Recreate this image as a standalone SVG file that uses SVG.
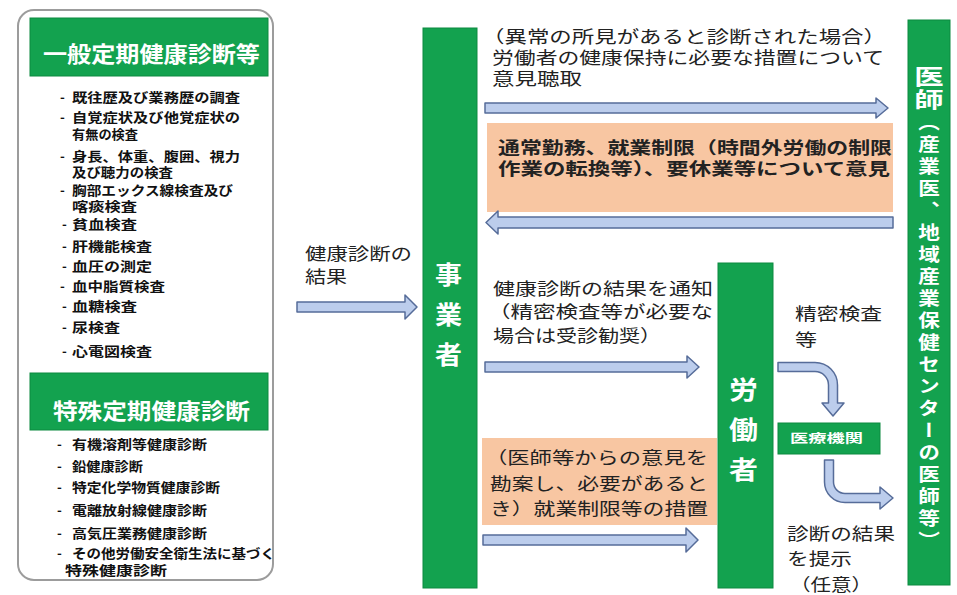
<svg xmlns="http://www.w3.org/2000/svg" width="957" height="595" viewBox="0 0 957 595">
<style>
text{font-family:"Noto Sans CJK JP","Noto Sans CJK SC",sans-serif;fill:#222}
.hd{font-size:22px;font-weight:bold;fill:#fff}
.it{font-size:13px;font-weight:bold;fill:#111}
.tx{font-size:17px;fill:#222}
.bo{font-size:17px;font-weight:bold;fill:#222}
.vb{font-size:25px;font-weight:bold;fill:#fff}
.grn{fill:#13a24f;stroke:#0d8a40;stroke-width:1}
.org{fill:#f8c6a2}
.arr{fill:#bccdec;stroke:#566c99;stroke-width:1.5;stroke-linejoin:round}
</style>
<rect width="957" height="595" fill="#fff"/>

<g id="panel-left">
<rect x="18" y="10" width="255" height="570" rx="16" fill="#fff" stroke="#9c9c9c" stroke-width="2"/>
</g>

<g id="general-exam">
<rect class="grn" x="30" y="18" width="238" height="58"/>
<text class="hd" x="43" y="62" textLength="217" lengthAdjust="spacingAndGlyphs">一般定期健康診断等</text>
<text class="it" x="60" y="102">-</text><text class="it" x="72" y="102" textLength="168" lengthAdjust="spacingAndGlyphs">既往歴及び業務歴の調査</text>
<text class="it" x="60" y="122">-</text><text class="it" x="72" y="122" textLength="168" lengthAdjust="spacingAndGlyphs">自覚症状及び他覚症状の</text>
<text class="it" x="72" y="139" textLength="66" lengthAdjust="spacingAndGlyphs">有無の検査</text>
<text class="it" x="60" y="161">-</text><text class="it" x="72" y="161" textLength="168" lengthAdjust="spacingAndGlyphs">身長、体重、腹囲、視力</text>
<text class="it" x="72" y="177" textLength="101" lengthAdjust="spacingAndGlyphs">及び聴力の検査</text>
<text class="it" x="60" y="195">-</text><text class="it" x="72" y="195" textLength="161" lengthAdjust="spacingAndGlyphs">胸部エックス線検査及び</text>
<text class="it" x="72" y="211" textLength="65" lengthAdjust="spacingAndGlyphs">喀痰検査</text>
<text class="it" x="62" y="229">-</text><text class="it" x="72" y="229" textLength="65" lengthAdjust="spacingAndGlyphs">貧血検査</text>
<text class="it" x="62" y="251">-</text><text class="it" x="72" y="251" textLength="80" lengthAdjust="spacingAndGlyphs">肝機能検査</text>
<text class="it" x="62" y="271">-</text><text class="it" x="72" y="271" textLength="80" lengthAdjust="spacingAndGlyphs">血圧の測定</text>
<text class="it" x="60" y="291">-</text><text class="it" x="72" y="291" textLength="93" lengthAdjust="spacingAndGlyphs">血中脂質検査</text>
<text class="it" x="62" y="311">-</text><text class="it" x="72" y="311" textLength="65" lengthAdjust="spacingAndGlyphs">血糖検査</text>
<text class="it" x="62" y="332">-</text><text class="it" x="72" y="332" textLength="48" lengthAdjust="spacingAndGlyphs">尿検査</text>
<text class="it" x="62" y="356">-</text><text class="it" x="72" y="356" textLength="80" lengthAdjust="spacingAndGlyphs">心電図検査</text>
</g>

<g id="special-exam">
<rect class="grn" x="30" y="373" width="238" height="57"/>
<text class="hd" x="53" y="419" textLength="197" lengthAdjust="spacingAndGlyphs">特殊定期健康診断</text>
<text class="it" x="57" y="449">-</text><text class="it" x="72" y="449" textLength="135" lengthAdjust="spacingAndGlyphs">有機溶剤等健康診断</text>
<text class="it" x="57" y="471">-</text><text class="it" x="72" y="471" textLength="71" lengthAdjust="spacingAndGlyphs">鉛健康診断</text>
<text class="it" x="57" y="492">-</text><text class="it" x="72" y="492" textLength="148" lengthAdjust="spacingAndGlyphs">特定化学物質健康診断</text>
<text class="it" x="57" y="515">-</text><text class="it" x="72" y="515" textLength="135" lengthAdjust="spacingAndGlyphs">電離放射線健康診断</text>
<text class="it" x="57" y="538">-</text><text class="it" x="72" y="538" textLength="135" lengthAdjust="spacingAndGlyphs">高気圧業務健康診断</text>
<text class="it" x="57" y="558">-</text><text class="it" x="72" y="558" textLength="203" lengthAdjust="spacingAndGlyphs">その他労働安全衛生法に基づく</text>
<text class="it" x="65" y="575" textLength="102" lengthAdjust="spacingAndGlyphs">特殊健康診断</text>
</g>

<g id="employer">
<rect class="grn" x="423" y="28" width="54" height="560"/>
<text class="vb" x="435" y="284" textLength="27" lengthAdjust="spacingAndGlyphs">事</text>
<text class="vb" x="435" y="324" textLength="27" lengthAdjust="spacingAndGlyphs">業</text>
<text class="vb" x="435" y="364" textLength="27" lengthAdjust="spacingAndGlyphs">者</text>
</g>

<g id="worker">
<rect class="grn" x="718" y="263" width="55" height="325"/>
<text class="vb" x="729" y="399" textLength="29" lengthAdjust="spacingAndGlyphs">労</text>
<text class="vb" x="729" y="439" textLength="29" lengthAdjust="spacingAndGlyphs">働</text>
<text class="vb" x="729" y="479" textLength="29" lengthAdjust="spacingAndGlyphs">者</text>
</g>

<g id="doctor">
<rect class="grn" x="908" y="20" width="42" height="565"/>
<g transform="translate(929,0) scale(1.4,1) translate(-929,0)">
<text x="929" y="66" style="writing-mode:vertical-rl;font-size:21px;font-weight:bold;fill:#fff;letter-spacing:2px">医師</text>
</g>
<g transform="translate(929,0) scale(1.2,1) translate(-929,0)">
<text x="929" y="113" style="writing-mode:vertical-rl;font-size:18px;font-weight:bold;fill:#fff;letter-spacing:4px">（産業医、地域産業保健センターの医師等）</text>
</g>
</g>

<g id="medical-institution">
<rect class="grn" x="778" y="423" width="102" height="31"/>
<text x="790" y="443" textLength="73" lengthAdjust="spacingAndGlyphs" style="font-size:12px;font-weight:bold;fill:#fff">医療機関</text>
</g>

<g id="opinion-box-top">
<rect class="org" x="487" y="123" width="406" height="89"/>
<text class="bo" x="498" y="154" textLength="394" lengthAdjust="spacingAndGlyphs">通常勤務、就業制限（時間外労働の制限</text>
<text class="bo" x="498" y="175" textLength="392" lengthAdjust="spacingAndGlyphs">作業の転換等）、要休業等について意見</text>
</g>

<g id="measure-box">
<rect class="org" x="482" y="438" width="235" height="87"/>
<text class="tx" x="485" y="464" textLength="223" lengthAdjust="spacingAndGlyphs">（医師等からの意見を</text>
<text class="tx" x="490" y="490" textLength="218" lengthAdjust="spacingAndGlyphs">勘案し、必要があると</text>
<text class="tx" x="490" y="515" textLength="218" lengthAdjust="spacingAndGlyphs">き）就業制限等の措置</text>
</g>

<g id="labels">
<text class="tx" x="482" y="43" textLength="404" lengthAdjust="spacingAndGlyphs">（異常の所見があると診断された場合）</text>
<text class="tx" x="492" y="64" textLength="392" lengthAdjust="spacingAndGlyphs">労働者の健康保持に必要な措置について</text>
<text class="tx" x="492" y="85" textLength="90" lengthAdjust="spacingAndGlyphs">意見聴取</text>
<text class="tx" x="305" y="260" textLength="107" lengthAdjust="spacingAndGlyphs">健康診断の</text>
<text class="tx" x="305" y="283" textLength="42" lengthAdjust="spacingAndGlyphs">結果</text>
<text class="tx" x="493" y="295" textLength="220" lengthAdjust="spacingAndGlyphs">健康診断の結果を通知</text>
<text class="tx" x="488" y="318" textLength="225" lengthAdjust="spacingAndGlyphs">（精密検査等が必要な</text>
<text class="tx" x="493" y="342" textLength="168" lengthAdjust="spacingAndGlyphs">場合は受診勧奨）</text>
<text class="tx" x="795" y="320" textLength="87" lengthAdjust="spacingAndGlyphs">精密検査</text>
<text class="tx" x="795" y="346" textLength="22" lengthAdjust="spacingAndGlyphs">等</text>
<text class="tx" x="787" y="540" textLength="108" lengthAdjust="spacingAndGlyphs">診断の結果</text>
<text class="tx" x="787" y="565" textLength="65" lengthAdjust="spacingAndGlyphs">を提示</text>
<text class="tx" x="790" y="591" textLength="82" lengthAdjust="spacingAndGlyphs">（任意）</text>
</g>

<g id="connectors">
<path class="arr" d="M297,302 H405 V295 L417,307 L405,319 V312 H297 Z"/>
<path class="arr" d="M485,103 H876 V98 L888,108 L876,118 V113 H485 Z"/>
<path class="arr" d="M893,217 H498 V211 L486,222.5 L498,234 V228 H893 Z"/>
<path class="arr" d="M485,362 H687 V356 L699,367 L687,378 V372 H485 Z"/>
<path class="arr" d="M483,535 H686 V528 L698,540 L686,552 V545 H483 Z"/>
<path class="arr" d="M778,362.5 H815 A22.5,22.5 0 0 1 837.5,385 V403 H844 L833,416 L822,403 H828.5 V385 A13.5,13.5 0 0 0 815,371.5 H778 Z"/>
<path class="arr" d="M824.5,460 V482 A20.5,20.5 0 0 0 845,502.5 H880 V509 L893,498 L880,487 V493.5 H845 A11.5,11.5 0 0 1 833.5,482 V460 Z"/>
</g>
</svg>
